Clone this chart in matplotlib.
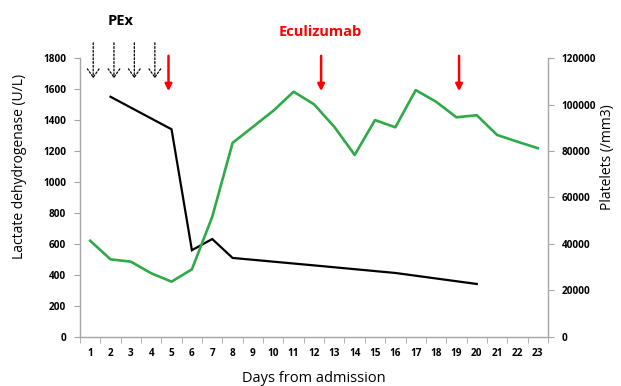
import numpy as np
import matplotlib.pyplot as plt

# data
days = list(range(1, 24))
ldh_days = [2, 5, 6, 7, 8, 12, 16, 20]
ldh = [1550, 1340, 560, 632, 510, 462, 413, 342]
platelets = [41400, 33400, 32400, 27400, 23800, 29100, 51700, 83500, 90400,
             97300, 105500, 100100, 90400, 78300, 93300, 90200, 106200,
             101200, 94500, 95400, 86900, 84000, 81200]
pex_days = [1.15, 2.17, 3.17, 4.18]
ecu_days = [4.85, 12.35, 19.13]

GREEN = "#2EAA48"
GRAY = "#A6A6A6"

plt.rcParams["font.family"] = ["Open Sans", "DejaVu Sans"]

fig = plt.figure(figsize=(6.21, 3.86), dpi=100)
ax = fig.add_axes([0.1288, 0.127, 0.7536, 0.7227])
ax2 = ax.twinx()

ax.plot(ldh_days, ldh, color="black", lw=1.6, solid_joinstyle="miter")
ax2.plot(days, platelets, color=GREEN, lw=1.9)

ax.set_xlim(0.5, 23.5)
ax.set_ylim(0, 1800)
ax2.set_ylim(0, 120000)

ax.set_yticks(np.arange(0, 1801, 200))
ax2.set_yticks(np.arange(0, 120001, 20000))
ax.set_xticks(days)
ax.set_xticks(np.arange(0.5, 23.6, 1), minor=True)

for a in (ax, ax2):
    a.spines["top"].set_visible(False)
    for s in ("left", "right", "bottom"):
        a.spines[s].set_color(GRAY)
        a.spines[s].set_linewidth(1.0)
ax.spines["right"].set_visible(False)
ax2.spines["left"].set_visible(False)
ax2.spines["bottom"].set_visible(False)

ax.tick_params(axis="y", direction="out", length=4, color=GRAY, labelsize=7.2, pad=6)
ax2.tick_params(axis="y", direction="out", length=4, color=GRAY, labelsize=7.2, pad=6)
ax.tick_params(axis="x", which="major", length=0, labelsize=7.2, pad=8)
ax.tick_params(axis="x", which="minor", direction="out", length=4, color=GRAY)
for lab in ax.get_yticklabels() + ax2.get_yticklabels() + ax.get_xticklabels():
    lab.set_fontweight("bold")

# axis titles placed in figure pixels (621 x 386)
W, H = 621, 386
fig.text(20 / W, 1 - 166 / H, "Lactate dehydrogenase (U/L)", rotation=90,
         ha="center", va="center", fontsize=10)
fig.text(608 / W, 1 - 157 / H, "Platelets (/mm3)", rotation=90,
         ha="center", va="center", fontsize=10)
fig.text(314 / W, 1 - 379 / H, "Days from admission",
         ha="center", va="center", fontsize=10.5)

# plasma exchange arrows (dotted) and eculizumab arrows (red)
for d in pex_days:
    ax.annotate("", xy=(d, 1651), xytext=(d, 1916), annotation_clip=False,
                arrowprops=dict(arrowstyle="->,head_width=0.35,head_length=0.5",
                                color="black", lw=0.9,
                                linestyle=(0, (1.5, 1.5)), mutation_scale=12))
for d in ecu_days:
    ax.annotate("", xy=(d, 1568), xytext=(d, 1832), annotation_clip=False,
                arrowprops=dict(arrowstyle="-|>", color="#FF0000", lw=1.8,
                                mutation_scale=10))

ax.text(2.5, 2040, "PEx", ha="center", va="center", fontsize=10.5,
        fontweight="bold", color="black", clip_on=False)
ax.text(12.3, 1968, "Eculizumab", ha="center", va="center", fontsize=10.5,
        fontweight="bold", color="#FF0000", clip_on=False)

fig.savefig("out.png", dpi=100)
